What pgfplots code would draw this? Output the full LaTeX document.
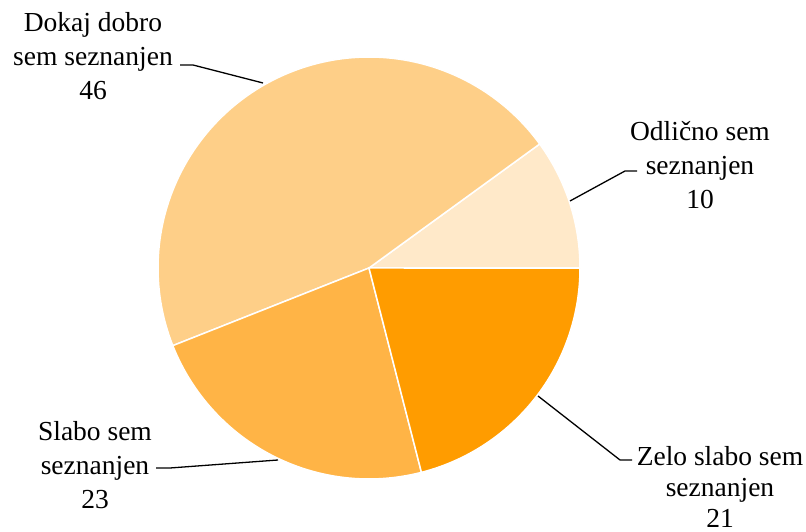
\documentclass[border=0pt]{standalone}
\usepackage{fontspec}
\setmainfont{Liberation Serif}
\usepackage{pgfplots}
\usepackage{pgfplotstable}
\pgfplotsset{compat=1.18}
\definecolor{cA}{HTML}{FFE9C9}
\definecolor{cB}{HTML}{FECF88}
\definecolor{cC}{HTML}{FFB446}
\definecolor{cD}{HTML}{FF9C00}
\pgfplotstableread{
label value
Odlicno 10
Dokaj 46
Slabo 23
Zelo 21
}\piedata
\pgfplotstablegetelem{0}{value}\of\piedata \let\vA\pgfplotsretval
\pgfplotstablegetelem{1}{value}\of\piedata \let\vB\pgfplotsretval
\pgfplotstablegetelem{2}{value}\of\piedata \let\vC\pgfplotsretval
\pgfplotstablegetelem{3}{value}\of\piedata \let\vD\pgfplotsretval
\pgfmathsetmacro\tot{\vA+\vB+\vC+\vD}
\pgfmathsetmacro\aA{\vA/\tot*360}
\pgfmathsetmacro\aB{\aA+\vB/\tot*360}
\pgfmathsetmacro\aC{\aB+\vC/\tot*360}
\pgfmathsetmacro\aD{\aC+\vD/\tot*360}
\begin{document}
\begin{tikzpicture}
\begin{axis}[name=ax, scale only axis, width=806pt, height=532pt,
  xmin=0, xmax=806, ymin=0, ymax=532, hide axis, clip=false]
\addplot[fill=cA, draw=white, line width=1.5pt, domain=0:\aA, samples=40]
  ({369+211*cos(x)},{264+211*sin(x)}) -- (axis cs:369,264) -- cycle;
\addplot[fill=cB, draw=white, line width=1.5pt, domain=\aA:\aB, samples=120]
  ({369+211*cos(x)},{264+211*sin(x)}) -- (axis cs:369,264) -- cycle;
\addplot[fill=cC, draw=white, line width=1.5pt, domain=\aB:\aC, samples=60]
  ({369+211*cos(x)},{264+211*sin(x)}) -- (axis cs:369,264) -- cycle;
\addplot[fill=cD, draw=white, line width=1.5pt, domain=\aC:\aD, samples=60]
  ({369+211*cos(x)},{264+211*sin(x)}) -- (axis cs:369,264) -- cycle;
% leader lines
\draw[line width=1.3pt] (axis cs:180,467) -- (axis cs:193,467) -- (axis cs:263,449);
\draw[line width=1.3pt] (axis cs:637,361) -- (axis cs:625,361) -- (axis cs:570,331);
\draw[line width=1.3pt] (axis cs:156,64) -- (axis cs:170,64) -- (axis cs:278,72);
\draw[line width=1.3pt] (axis cs:632,72) -- (axis cs:620,72) -- (axis cs:538,136);
\tikzset{lbl/.style={align=center, font=\fontsize{27.5}{34}\selectfont, inner sep=0pt}}
\node[lbl] at (axis cs:93,476) {Dokaj dobro\\sem seznanjen\\46};
\node[lbl] at (axis cs:700,367) {Odlično sem\\seznanjen\\10};
\node[lbl] at (axis cs:95,67) {Slabo sem\\seznanjen\\23};
\node[lbl, font=\fontsize{27.5}{31}\selectfont] at (axis cs:720,45) {Zelo slabo sem\\seznanjen\\21};
\end{axis}
\pgfresetboundingbox
\path[use as bounding box] (ax.south west) rectangle (ax.north east);
\end{tikzpicture}
\end{document}
